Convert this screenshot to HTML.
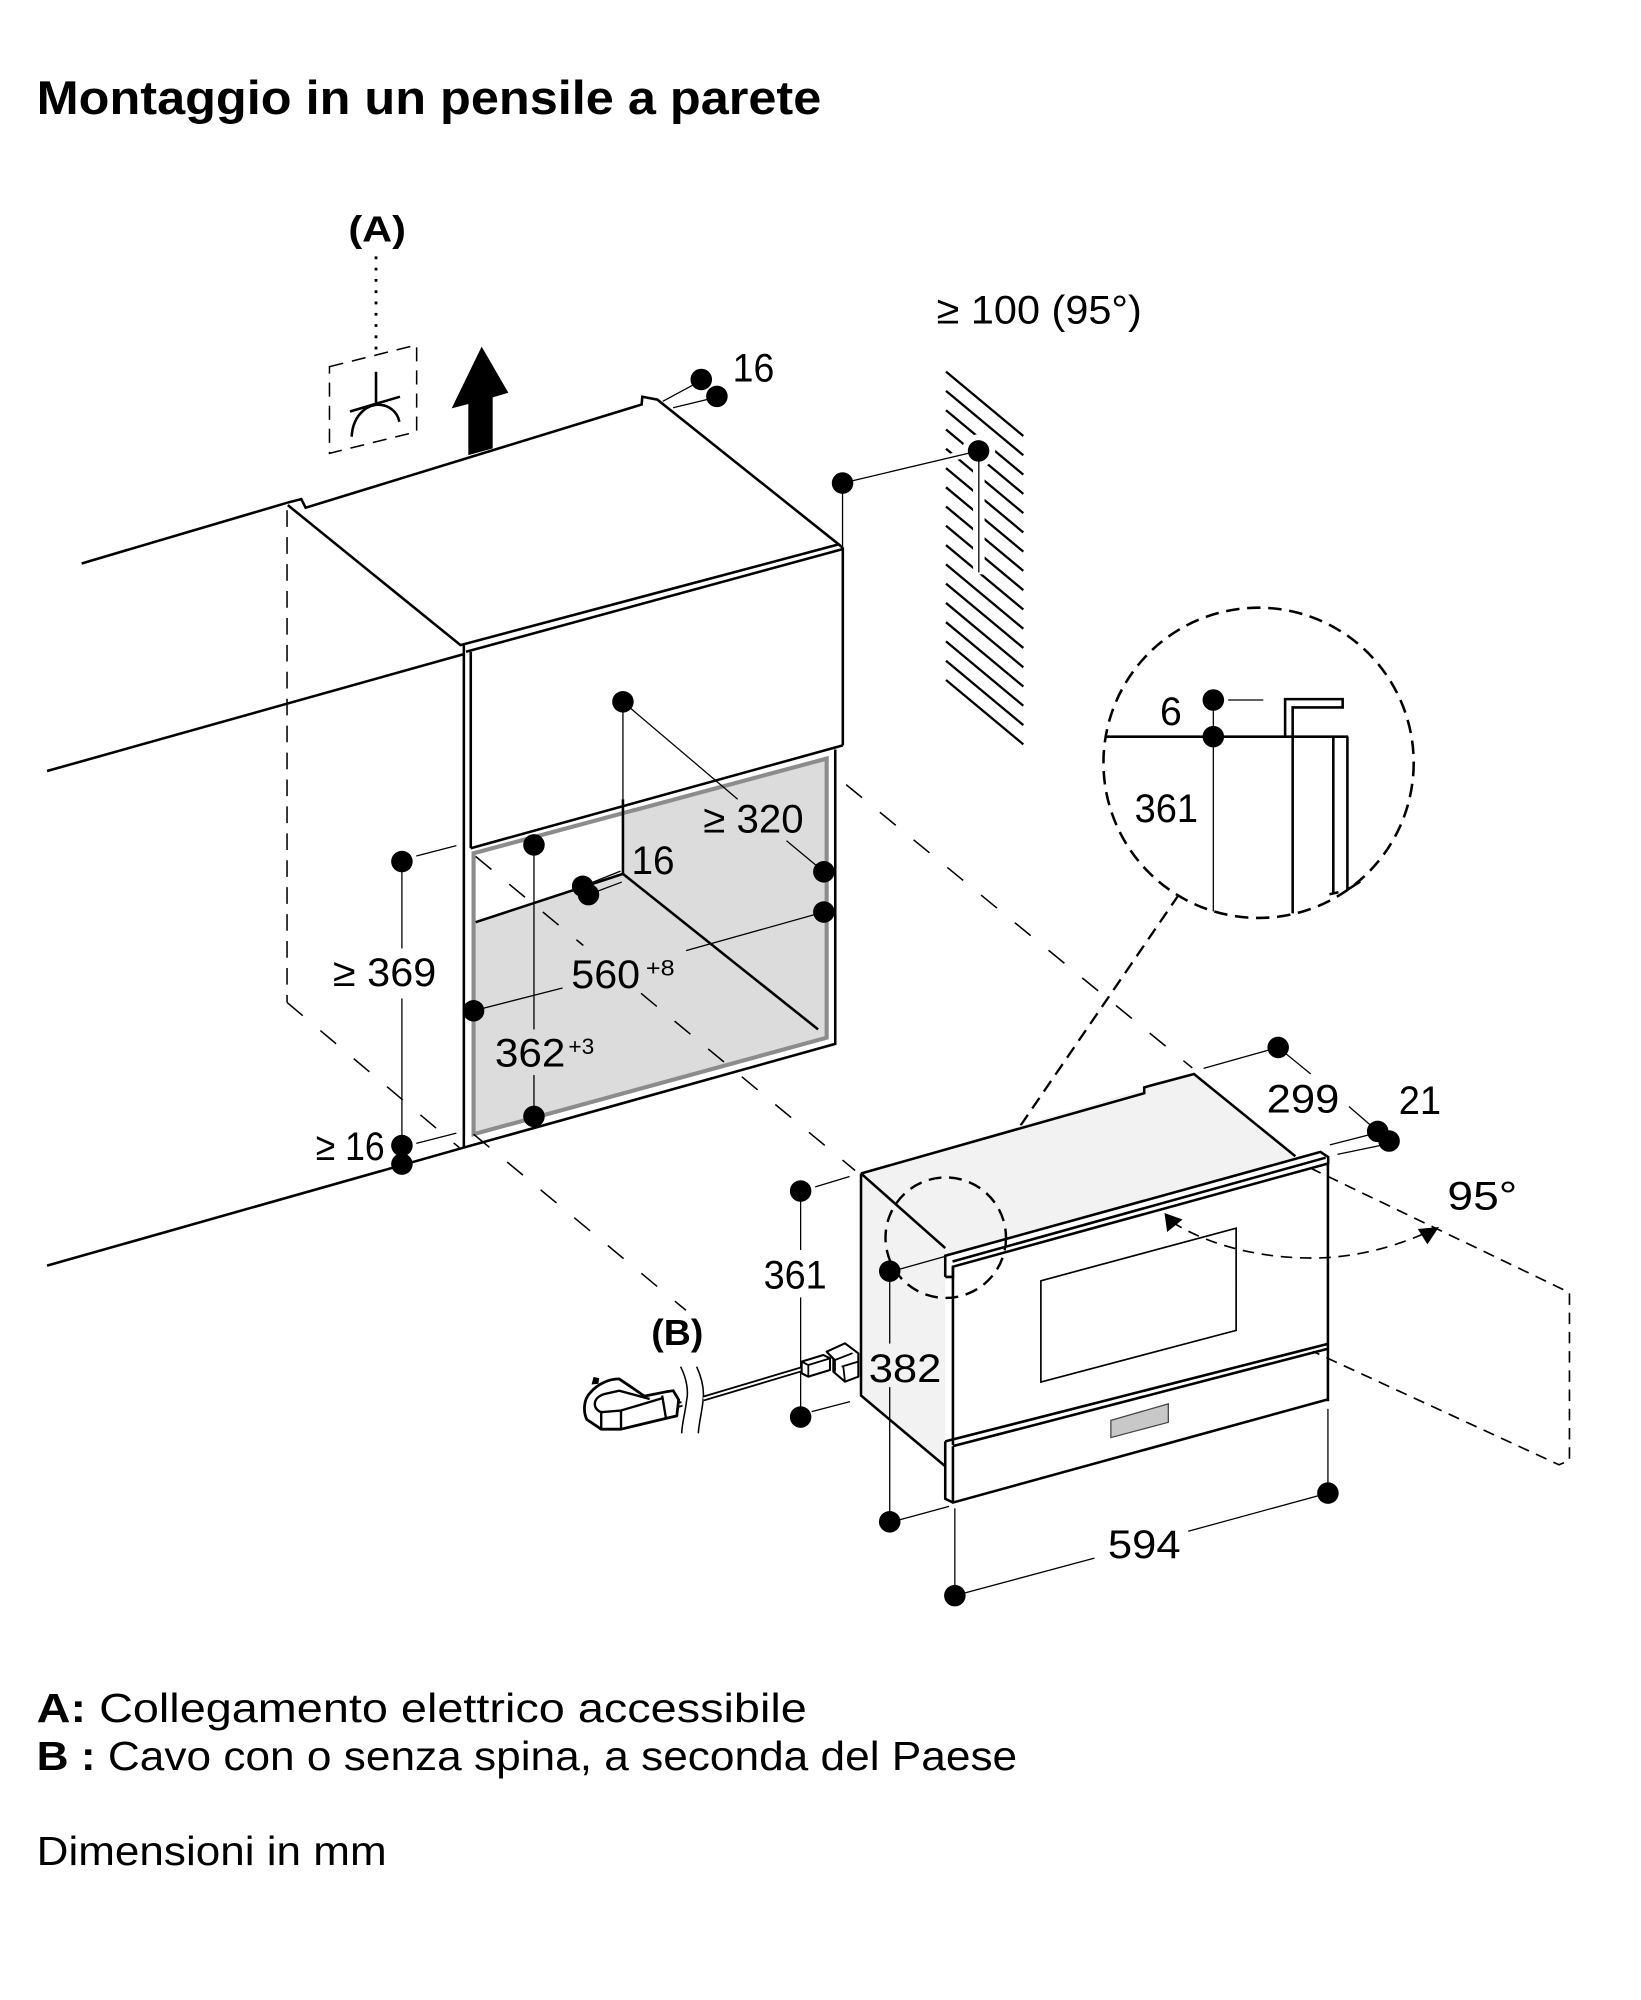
<!DOCTYPE html>
<html><head><meta charset="utf-8">
<style>
html,body{margin:0;padding:0;background:#fff;}
svg{display:block;}
text{font-family:"Liberation Sans",Arial,sans-serif;fill:#000;}
.k{stroke:#000;stroke-width:2;fill:none;stroke-linejoin:miter;}
.t{stroke:#000;stroke-width:1;fill:none;}
.d{stroke:#000;stroke-width:1.2;fill:none;stroke-dasharray:16 18;}
.dd{stroke:#000;stroke-width:1.3;fill:none;stroke-dasharray:9 6;}
.h{stroke:#000;stroke-width:1.8;}
.n{font-size:31px;}
</style></head><body>
<svg width="1641" height="2000" viewBox="0 0 1280 1560" preserveAspectRatio="none" xmlns="http://www.w3.org/2000/svg">

<!-- Title -->
<text x="28.6" y="88.9" font-size="37" font-weight="bold" textLength="612" lengthAdjust="spacingAndGlyphs">Montaggio in un pensile a parete</text>

<!-- (A) symbol -->
<text x="271.7" y="188.5" font-size="28" font-weight="bold" textLength="45" lengthAdjust="spacingAndGlyphs">(A)</text>
<line x1="293.3" y1="200" x2="293.3" y2="279" stroke="#000" stroke-width="2.2" stroke-dasharray="2.2 6.6"/>
<polygon points="257,286 325,269 325,336.7 257,353.6" fill="none" stroke="#000" stroke-width="1.2" stroke-dasharray="11 7"/>
<line x1="293.3" y1="290" x2="293.3" y2="314" class="k"/>
<line x1="273" y1="321" x2="312" y2="309.4" class="k"/>
<path d="M274.3,340.6 C275,326 284,317 293,315.8 C303,315 310,321 311.5,329" class="k"/>
<polygon points="375.7,270.4 396.5,306.3 384.3,310 384.3,349.7 365.3,355 365.3,315.1 352.3,318.5" fill="#000"/>

<!-- niche fill -->
<polygon points="369.4,665.5 644.8,591.7 644.8,809.4 369.4,884.7" fill="#dcdcdc"/>
<polygon points="370.5,667 485.9,636 485.9,681.6 370.5,719.3" fill="#fff"/>
<polygon points="369.4,665.5 644.8,591.7 644.8,809.4 369.4,884.7" fill="none" stroke="#8c8c8c" stroke-width="3.2"/>
<path class="k" d="M371,719.3 L485.9,681.6 L638.1,802.9"/>
<line x1="485.9" y1="623.4" x2="485.9" y2="681.6" class="k"/>

<!-- upper cabinet -->
<path class="k" d="M63.7,439.5 L224.5,392 L235,389.3 L238.4,396 L500.5,315.5 L501,309.5 L512.7,311.7 L657.2,427"/>
<path class="k" d="M224.5,394 L359.2,503.2 L653.4,424.8"/>
<path class="k" d="M363.5,508.4 L657.2,428.3"/>
<line x1="361.8" y1="503.5" x2="361.8" y2="895.1" class="k"/>
<line x1="367.2" y1="508.5" x2="367.2" y2="661.6" class="k"/>
<line x1="657.4" y1="427" x2="657.4" y2="581.4" class="k"/>
<line x1="367.2" y1="661.6" x2="657.4" y2="581.4" class="k"/>
<line x1="36.7" y1="601.4" x2="361.8" y2="510.2" class="k"/>
<line x1="36.7" y1="987.2" x2="361.8" y2="895.1" class="k"/>
<path class="k" d="M651.5,584.6 L651.5,814.2 L361.8,895.1"/>

<!-- dashed projection lines -->
<line x1="223.9" y1="398" x2="223.9" y2="781.9" stroke="#000" stroke-width="1.2" stroke-dasharray="13 8"/>
<line class="d" x1="223.9" y1="781.9" x2="358.2" y2="895.1"/>
<line class="d" x1="369.4" y1="884.7" x2="535" y2="1022"/>
<line class="d" x1="371" y1="668" x2="455" y2="737.5"/>
<line class="d" x1="500" y1="774.8" x2="667" y2="913"/>
<line class="d" x1="660" y1="612" x2="930" y2="833"/>

<!-- hatched wall -->
<g class="h">
<line x1="737.9" y1="289.9" x2="798.2" y2="340.1"/>
<line x1="737.9" y1="304.9" x2="798.2" y2="355.1"/>
<line x1="737.9" y1="320.0" x2="798.2" y2="370.2"/>
<line x1="737.9" y1="335.0" x2="798.2" y2="385.2"/>
<line x1="737.9" y1="350.0" x2="798.2" y2="400.2"/>
<line x1="737.9" y1="365.1" x2="798.2" y2="415.3"/>
<line x1="737.9" y1="380.1" x2="798.2" y2="430.3"/>
<line x1="737.9" y1="395.1" x2="798.2" y2="445.3"/>
<line x1="737.9" y1="410.1" x2="798.2" y2="460.3"/>
<line x1="737.9" y1="425.2" x2="798.2" y2="475.4"/>
<line x1="737.9" y1="440.2" x2="798.2" y2="490.4"/>
<line x1="737.9" y1="455.2" x2="798.2" y2="505.4"/>
<line x1="737.9" y1="470.3" x2="798.2" y2="520.5"/>
<line x1="737.9" y1="485.3" x2="798.2" y2="535.5"/>
<line x1="737.9" y1="500.3" x2="798.2" y2="550.5"/>
<line x1="737.9" y1="515.4" x2="798.2" y2="565.6"/>
<line x1="737.9" y1="530.4" x2="798.2" y2="580.6"/>
</g>
<line x1="763.5" y1="345" x2="763.5" y2="448" stroke="#fff" stroke-width="9"/>
<circle cx="763.3" cy="351.7" r="13" fill="#fff"/>
<line x1="700" y1="366.6" x2="752" y2="354.3" stroke="#fff" stroke-width="6"/>

<!-- >=100 and 16 dims -->
<text x="730.6" y="252.2" class="n" font-size="30" textLength="160" lengthAdjust="spacingAndGlyphs">≥ 100 (95°)</text>
<line class="t" x1="657.2" y1="376.8" x2="763.3" y2="351.7"/>
<line class="t" x1="657.2" y1="376.8" x2="657.2" y2="427"/>
<line class="t" x1="763.5" y1="351.7" x2="763.5" y2="446.5"/>
<circle cx="657.2" cy="376.8" r="8.4"/>
<circle cx="763.3" cy="351.7" r="8.4"/>
<text x="571.5" y="297.7" class="n" textLength="32.5" lengthAdjust="spacingAndGlyphs">16</text>
<line class="t" x1="517" y1="313" x2="543" y2="299"/>
<line class="t" x1="525" y1="318" x2="554" y2="311"/>
<circle cx="547" cy="296" r="8.4"/>
<circle cx="559.2" cy="309.2" r="8.4"/>

<!-- niche dims -->
<line class="t" x1="485.9" y1="547.4" x2="485.9" y2="623.4"/>
<line class="t" x1="485.9" y1="547.4" x2="575.4" y2="623.4"/>
<text x="548.6" y="649.3" class="n" textLength="78.3" lengthAdjust="spacingAndGlyphs">≥ 320</text>
<line class="t" x1="613.5" y1="655.8" x2="642.6" y2="680"/>
<circle cx="485.9" cy="547.4" r="8.4"/>
<circle cx="642.6" cy="680" r="8.4"/>

<line class="t" x1="642.6" y1="711.4" x2="535.1" y2="741.5"/>
<line class="t" x1="438.8" y1="770.6" x2="369.4" y2="788.4"/>
<text x="445.6" y="770.6" class="n" textLength="53.7" lengthAdjust="spacingAndGlyphs">560</text>
<text x="503.8" y="760.9" font-size="17" textLength="22.4" lengthAdjust="spacingAndGlyphs">+8</text>
<circle cx="642.6" cy="711.4" r="8.4"/>
<circle cx="369.4" cy="788.4" r="8.4"/>

<line class="t" x1="416.5" y1="659" x2="416.5" y2="803"/>
<line class="t" x1="416.5" y1="838.5" x2="416.5" y2="870.8"/>
<text x="386" y="832" class="n" textLength="55" lengthAdjust="spacingAndGlyphs">362</text>
<text x="443.3" y="822.3" font-size="17" textLength="20.2" lengthAdjust="spacingAndGlyphs">+3</text>
<circle cx="416.5" cy="659" r="8.4"/>
<circle cx="416.5" cy="870.8" r="8.4"/>

<line class="t" x1="454.5" y1="691.3" x2="484" y2="679.5"/>
<line class="t" x1="459" y1="697.8" x2="485" y2="688"/>
<circle cx="454.5" cy="691.3" r="8.4"/>
<circle cx="459" cy="697.8" r="8.4"/>
<text x="492.6" y="681.6" class="n" textLength="33.6" lengthAdjust="spacingAndGlyphs">16</text>

<line class="t" x1="324.7" y1="667.7" x2="356" y2="659.6"/>
<line class="t" x1="313.5" y1="672" x2="313.5" y2="739.8"/>
<line class="t" x1="313.5" y1="778.7" x2="313.5" y2="893.5"/>
<text x="259.7" y="769" class="n" textLength="80.6" lengthAdjust="spacingAndGlyphs">≥ 369</text>
<line class="t" x1="324.7" y1="891.8" x2="356" y2="883.8"/>
<text x="246.3" y="904.8" class="n" textLength="53.7" lengthAdjust="spacingAndGlyphs">≥ 16</text>
<circle cx="313.5" cy="672" r="8.4"/>
<circle cx="313.5" cy="893.5" r="8.4"/>
<circle cx="313.5" cy="908" r="8.4"/>

<!-- big detail circle -->
<circle cx="981.7" cy="595" r="121" fill="#fff" stroke="#000" stroke-width="2" stroke-dasharray="10.5 6"/>
<line class="k" x1="862.7" y1="574.6" x2="1051.6" y2="574.6"/>
<line class="t" x1="958" y1="546" x2="985.4" y2="546"/>
<line class="t" x1="946.4" y1="546" x2="946.4" y2="711"/>
<path class="k" d="M1002.4,574.6 L1002.4,545.3 L1047.3,545.3 L1047.3,551.8 L1008.3,551.8 L1008.3,712.4"/>
<path class="k" d="M1040,574.6 L1040,697 M1037,697.5 L1044,696"/>
<path class="k" d="M1051,574.6 L1051,694 L1061,687.6"/>
<circle cx="946.4" cy="546" r="8.4"/>
<circle cx="946.4" cy="574.6" r="8.4"/>
<text x="904.8" y="565.5" class="n" font-size="29" textLength="17" lengthAdjust="spacingAndGlyphs">6</text>
<text x="885" y="641" class="n" font-size="30" textLength="49.5" lengthAdjust="spacingAndGlyphs">361</text>
<line x1="919.4" y1="698" x2="765.5" y2="922.4" stroke="#000" stroke-width="1.8" stroke-dasharray="10 6"/>

<!-- appliance -->
<polygon points="671.6,915.3 931.3,837.7 1012,903 737.3,979.5" fill="#f2f2f2"/>
<polygon points="671.6,915.3 737.3,973.5 737.3,1143.7 671.6,1088.5" fill="#f2f2f2"/>
<path class="k" d="M671.6,915.3 L892.5,852.7 L892.5,848.2 L897,846.9 L931.3,837.7 L1010.4,901.9"/>
<path class="k" d="M671.6,915.3 L671.6,1088.5 L737.3,1143.7"/>
<line class="k" x1="671.6" y1="915.3" x2="737.3" y2="973.5"/>
<path class="k" d="M737.3,996 L737.3,979.5 L1030,898.5 L1036,902.5 L1036,908"/>
<line class="k" x1="743" y1="984" x2="1034" y2="903"/>
<path class="k" d="M737.3,996 L743.3,996 L743.3,988 L1036,907.5"/>
<line class="k" x1="743.3" y1="988" x2="743.3" y2="1127"/>
<line class="k" x1="1035.8" y1="907.5" x2="1035.8" y2="1093"/>
<path class="k" d="M737.3,1124.3 L1035.8,1048.2"/>
<path class="k" d="M743.3,1128 L1035.8,1052"/>
<path class="k" d="M737.3,1124.3 L737.3,1169 L743.3,1172 L1035.8,1091.5"/>
<line class="k" x1="743.3" y1="1128" x2="743.3" y2="1172"/>
<polygon points="811.9,999 964.2,958 964.2,1037.7 811.9,1078" fill="none" stroke="#000" stroke-width="1.3"/>
<polygon points="866.5,1107.9 911.3,1095 911.3,1109.4 866.5,1121.3" fill="#c8c8c8" stroke="#444" stroke-width="1"/>

<!-- small detail circle -->
<circle cx="737.7" cy="965.4" r="47" fill="none" stroke="#000" stroke-width="1.9" stroke-dasharray="10 6"/>

<!-- door opening -->
<path class="dd" d="M1022,911 L1224.2,1008.2 L1224.2,1139.3 L1216,1142.5 L1024,1054.1"/>
<path class="dd" d="M914,953 C945,973 990,983 1034,981 C1068,979 1096,969 1116,960"/>
<polygon points="908.3,946.1 910.4,961 922.4,951.2" fill="#000"/>
<polygon points="1122.4,957.1 1105.9,958.6 1113.4,970.6" fill="#000"/>
<text x="1129" y="943.5" class="n" textLength="54.5" lengthAdjust="spacingAndGlyphs">95°</text>

<!-- 299 / 21 -->
<line class="t" x1="938.8" y1="833.3" x2="997" y2="817"/>
<line class="t" x1="997" y1="817" x2="1022.4" y2="837.7"/>
<line class="t" x1="1052.2" y1="863.1" x2="1074.6" y2="882.5"/>
<line class="t" x1="1070.1" y1="884.6" x2="1037.3" y2="893"/>
<line class="t" x1="1079" y1="893" x2="1043.2" y2="900.4"/>
<circle cx="997" cy="817" r="8.4"/>
<circle cx="1074.6" cy="882.5" r="8.4"/>
<circle cx="1083.5" cy="890" r="8.4"/>
<text x="988" y="867.6" class="n" textLength="56.7" lengthAdjust="spacingAndGlyphs">299</text>
<text x="1091" y="869" class="n" textLength="33" lengthAdjust="spacingAndGlyphs">21</text>

<!-- 361 left -->
<line class="t" x1="635.9" y1="925.8" x2="662.7" y2="917.7"/>
<line class="t" x1="624.5" y1="929" x2="624.5" y2="975"/>
<line class="t" x1="624.5" y1="1012" x2="624.5" y2="1105.3"/>
<line class="t" x1="633.1" y1="1101.1" x2="663" y2="1093.3"/>
<circle cx="624.5" cy="929" r="8.4"/>
<circle cx="624.5" cy="1105.3" r="8.4"/>
<text x="595.6" y="1005" class="n" textLength="49.2" lengthAdjust="spacingAndGlyphs">361</text>

<!-- 382 -->
<line class="t" x1="701.5" y1="990" x2="737.3" y2="980"/>
<line class="t" x1="694" y1="991.5" x2="694" y2="1048"/>
<line class="t" x1="694" y1="1082" x2="694" y2="1187"/>
<line class="t" x1="701.5" y1="1185.5" x2="740.3" y2="1175"/>
<circle cx="694" cy="991.5" r="8.4"/>
<circle cx="694" cy="1187" r="8.4"/>
<text x="677.6" y="1078" class="n" textLength="56.7" lengthAdjust="spacingAndGlyphs">382</text>

<!-- 594 -->
<line class="t" x1="1035.8" y1="1098.9" x2="1035.8" y2="1164.6"/>
<line class="t" x1="744.8" y1="1176.5" x2="744.8" y2="1244.6"/>
<line class="t" x1="744.8" y1="1244.6" x2="853.7" y2="1215.3"/>
<line class="t" x1="926.8" y1="1194.4" x2="1035.8" y2="1164.6"/>
<circle cx="1035.8" cy="1164.6" r="8.4"/>
<circle cx="744.8" cy="1244.6" r="8.4"/>
<text x="864.2" y="1215.3" class="n" textLength="56.7" lengthAdjust="spacingAndGlyphs">594</text>

<!-- cable (B) -->
<text x="508" y="1049" font-size="28" font-weight="bold" textLength="40.6" lengthAdjust="spacingAndGlyphs">(B)</text>
<path d="M530.9,1066 C536,1076 537,1086 535.6,1092 C534.5,1102 532,1110 531.7,1118" fill="none" stroke="#000" stroke-width="1.2"/>
<path d="M543.4,1066 C548,1076 549,1084 548.6,1090 C548,1100 545,1110 544.7,1118" fill="none" stroke="#000" stroke-width="1.2"/>
<line x1="548.6" y1="1090.9" x2="627" y2="1067.5" stroke="#000" stroke-width="4.4"/>
<line x1="548.6" y1="1090.9" x2="627" y2="1067.5" stroke="#fff" stroke-width="1.6"/>
<line x1="521" y1="1098.3" x2="532" y2="1095" stroke="#000" stroke-width="4.4"/>
<line x1="521" y1="1098.3" x2="532" y2="1095" stroke="#fff" stroke-width="1.6"/>
<!-- connectors -->
<path d="M625.3,1062.1 L642.2,1056.9 L647.4,1059.5 L647.4,1068.6 L630.5,1073.8 L625.3,1071.2 Z" fill="#fff" stroke="#000" stroke-width="1.6" stroke-linejoin="round"/>
<path d="M625.3,1062.1 L630.5,1064.7 L647.4,1059.5 M630.5,1064.7 L630.5,1073.8" fill="none" stroke="#000" stroke-width="1.4"/>
<path d="M644.8,1054.3 L659.1,1047.8 L669.5,1055.6 L669.5,1073.8 L659.1,1077.7 L650,1069.9 L650,1060 Z" fill="#fff" stroke="#000" stroke-width="1.6" stroke-linejoin="round"/>
<path d="M644.8,1054.3 L651.3,1060.8 L665,1055.5 M651.3,1060.8 L651.3,1069.9 M656.5,1066 L669.5,1062.1 M657.8,1066 L659.1,1077.7" fill="none" stroke="#000" stroke-width="1.4"/>
<!-- plug -->
<g transform="translate(456,1095) scale(1.08) translate(-456,-1095)">
<path d="M457.6,1106.3 C455,1101 455,1092 460.2,1086.8 C465,1081 473,1077 481,1077 L499.2,1089.4 L514.8,1086.3 L520,1085.5 L523.9,1092 L522.6,1103.7 L514.8,1105.5 L482.3,1113.3 L468,1113.3 Z" fill="#fff" stroke="#000" stroke-width="2" stroke-linejoin="round"/>
<path d="M468,1101 C462,1099 461,1091 470,1088 L481,1085.5 L503,1091.5 M468,1101 L482.3,1099.8 L512,1091 M468,1101 L468,1113.3 M482.3,1099.8 L482.3,1113.3 M512,1089 L514.8,1105.5" fill="none" stroke="#000" stroke-width="1.7"/>
<path d="M461,1081 L462.5,1075.5 L466.5,1076.5 L466,1080.5 Z" fill="#000"/>
</g>

<!-- legend -->
<text x="28.6" y="1343" font-size="32" textLength="600.7" lengthAdjust="spacingAndGlyphs"><tspan font-weight="bold">A:</tspan> Collegamento elettrico accessibile</text>
<text x="28.6" y="1380.7" font-size="32" textLength="764.8" lengthAdjust="spacingAndGlyphs"><tspan font-weight="bold">B :</tspan> Cavo con o senza spina, a seconda del Paese</text>
<text x="28.6" y="1454.8" font-size="32" textLength="273" lengthAdjust="spacingAndGlyphs">Dimensioni in mm</text>

</svg>
</body></html>
